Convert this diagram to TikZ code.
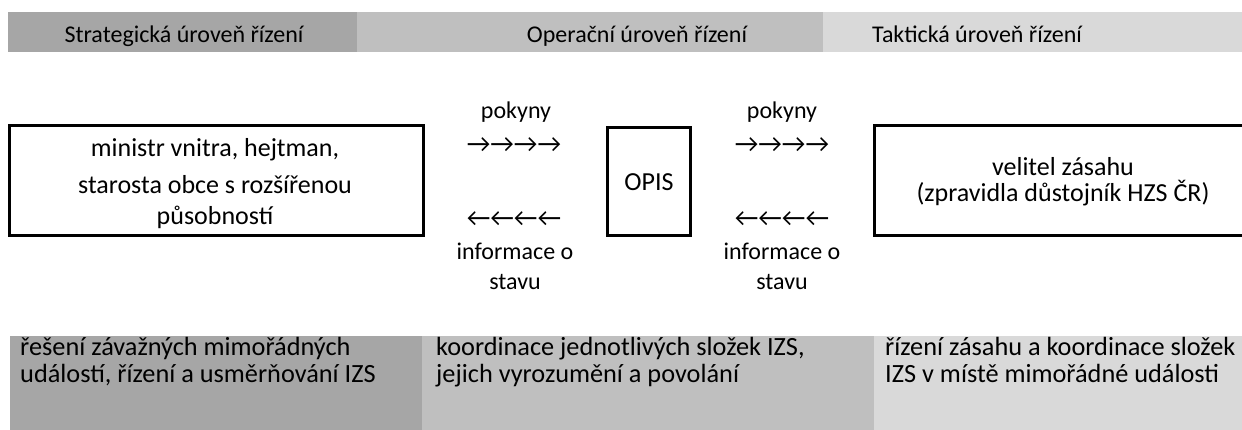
\documentclass[tikz,border=0pt]{standalone}
\usepackage{fontspec}
\setmainfont{Carlito}
\definecolor{gdark}{HTML}{A6A6A6}
\definecolor{gmid}{HTML}{BFBFBF}
\definecolor{glight}{HTML}{D9D9D9}
\begin{document}
\begin{tikzpicture}[x=1pt,y=-1pt,
  hdr/.style={font=\fontsize{24}{29}\selectfont,anchor=base,inner sep=0pt},
  frame/.style={draw=black,line width=3pt,inner sep=0pt},
  boxtxt/.style={font=\fontsize{26}{30}\selectfont,anchor=base,inner sep=0pt},
  midtxt/.style={font=\fontsize{24}{29}\selectfont,anchor=base,inner sep=0pt},
  arrtxt/.style={font=\fontsize{26}{30}\selectfont,anchor=base,inner sep=0pt},
  foot/.style={font=\fontsize{26.3}{27}\selectfont,anchor=base west,inner sep=0pt}]
\useasboundingbox (0,0) rectangle (1242,430);
\begin{scope}
\clip (0,0) rectangle (1242,430);
% header bands
\fill[gdark]  (8,12) rectangle (357,52);
\fill[gmid]   (357,12) rectangle (823,52);
\fill[glight] (823,12) rectangle (1242,52);
% footer bands
\fill[gdark]  (10,336) rectangle (422,430);
\fill[gmid]   (422,336) rectangle (874,430);
\fill[glight] (874,336) rectangle (1242,430);
% boxes
\node[frame,minimum width=414pt,minimum height=110pt] (strat) at (216.5,180.5) {};
\node[frame,minimum width=83pt,minimum height=108pt] (opis) at (649,181.5) {};
\node[frame,minimum width=380pt,minimum height=110pt] (takt) at (1064.5,180.5) {};
\end{scope}
% header texts
\node[hdr] (h1) at (184,43) {Strategická úroveň řízení};
\node[hdr] (h2) at (637,43) {Operační úroveň řízení};
\node[hdr] (h3) at (977,43) {Taktická úroveň řízení};
% box texts
\node[boxtxt] (s1) at (215,157) {ministr vnitra, hejtman,};
\node[boxtxt] (s2) at (215,194) {starosta obce s rozšířenou};
\node[boxtxt] (s3) at (215,225) {působností};
\node[boxtxt] (o1) at (649,191) {OPIS};
\node[boxtxt] (t1) at (1063,176) {velitel zásahu};
\node[boxtxt] (t2) at (1063,202) {(zpravidla důstojník HZS ČR)};
% middle texts left
\node[midtxt] (lp) at (516,119) {pokyny};
\node[arrtxt] (lar) at (514,153) {→→→→};
\node[arrtxt] (lal) at (514,227) {←←←←};
\node[midtxt] (li1) at (515,260) {informace o};
\node[midtxt] (li2) at (515,290) {stavu};
% middle texts right
\node[midtxt] (rp) at (782,119) {pokyny};
\node[arrtxt] (rar) at (782,153) {→→→→};
\node[arrtxt] (ral) at (782,227) {←←←←};
\node[midtxt] (ri1) at (782,260) {informace o};
\node[midtxt] (ri2) at (782,290) {stavu};
% footer texts
\node[foot] (f11) at (20,355) {řešení závažných mimořádných};
\node[foot] (f12) at (20,382) {událostí, řízení a usměrňování IZS};
\node[foot] (f21) at (436,355) {koordinace jednotlivých složek IZS,};
\node[foot] (f22) at (436,382) {jejich vyrozumění a povolání};
\node[foot] (f31) at (885,355) {řízení zásahu a koordinace složek};
\node[foot] (f32) at (885,382) {IZS v místě mimořádné události};
\end{tikzpicture}
\end{document}
